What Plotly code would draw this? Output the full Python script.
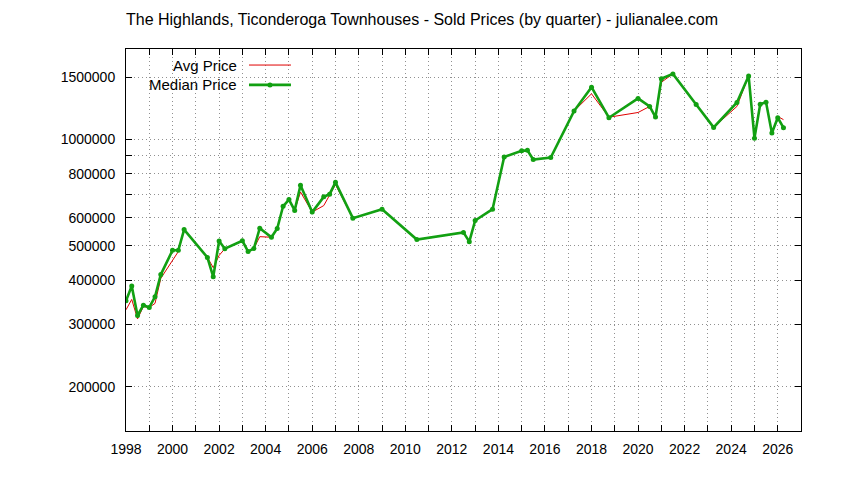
import numpy as np
import plotly.graph_objects as go

# 四半期ごとのデータ (quarter start)
quarters = [
    '1998-01-01', '1998-04-01', '1998-07-01', '1998-10-01', '1999-01-01', '1999-04-01',
    '1999-07-01', '2000-01-01', '2000-04-01', '2000-07-01', '2001-07-01', '2001-10-01',
    '2002-01-01', '2002-04-01', '2003-01-01', '2003-04-01', '2003-07-01', '2003-10-01',
    '2004-04-01', '2004-07-01', '2004-10-01', '2005-01-01', '2005-04-01', '2005-07-01',
    '2006-01-01', '2006-07-01', '2006-10-01', '2007-01-01', '2007-10-01', '2009-01-01',
    '2010-07-01', '2012-07-01', '2012-10-01', '2013-01-01', '2013-10-01', '2014-04-01',
    '2015-01-01', '2015-04-01', '2015-07-01', '2016-04-01', '2017-04-01', '2018-01-01',
    '2018-10-01', '2020-01-01', '2020-07-01', '2020-10-01', '2021-01-01', '2021-07-01',
    '2022-07-01', '2023-04-01', '2024-04-01', '2024-10-01', '2025-01-01', '2025-04-01',
    '2025-07-01', '2025-10-01', '2026-01-01', '2026-04-01',
]
avg_price = [
    330000, 353000, 311000, 337000, 335000, 344000,
    405000, 456000, 482000, 556000, 464000, 434000,
    470000, 491000, 517000, 482000, 492000, 531000,
    529000, 560000, 647000, 676000, 630000, 710000,
    623000, 650000, 695000, 745000, 599000, 635000,
    521000, 546000, 514000, 590000, 635000, 892000,
    929000, 931000, 877000, 888000, 1202000, 1345000,
    1155000, 1191000, 1239000, 1156000, 1450000, 1531000,
    1255000, 1081000, 1239000, 1511000, 1008000, 1257000,
    1274000, 1042000, 1160000, 1137000,
]
median_price = [
    350000, 385000, 318000, 340000, 335000, 359000,
    415000, 486000, 486000, 556000, 464000, 409000,
    516000, 491000, 517000, 482000, 492000, 561000,
    529000, 560000, 647000, 676000, 630000, 742000,
    623000, 688000, 700000, 756000, 599000, 635000,
    521000, 546000, 514000, 590000, 635000, 892000,
    929000, 931000, 877000, 888000, 1202000, 1404000,
    1151000, 1305000, 1239000, 1156000, 1483000, 1531000,
    1255000, 1081000, 1271000, 1511000, 1008000, 1257000,
    1274000, 1042000, 1151000, 1079000,
]
y_tickvals = [200000, 300000, 400000, 500000, 600000, 700000, 800000, 900000, 1000000, 1500000]
y_ticktext = ['200000', '300000', '400000', '500000', '600000', '', '800000', '', '1000000', '1500000']

title_text = 'The Highlands, Ticonderoga Townhouses - Sold Prices (by quarter) - julianalee.com'

# 見た目
font_family = 'Liberation Sans'
text_color  = 'black'
grid_color  = '#909090'
grid_dash   = '1px,3px'
avg_color   = '#e00000'
med_color   = '#12a012'

# ページ(body)の余白 8px を差し引いたサイズ
fig_w, fig_h = 836, 472

fig = go.Figure()
fig.add_trace(go.Scatter(
    x          = quarters,
    y          = avg_price,
    name       = 'Avg Price',
    mode       = 'lines',
    line       = {'color': avg_color, 'width': 1},
    showlegend = False,
))
fig.add_trace(go.Scatter(
    x          = quarters,
    y          = median_price,
    name       = 'Median Price',
    mode       = 'lines+markers',
    line       = {'color': med_color, 'width': 2.6},
    marker     = {'color': med_color, 'size': 5},
    showlegend = False,
))

fig.update_layout(
    width         = fig_w,
    height        = fig_h,
    margin        = {'l': 118, 'r': 43, 't': 41, 'b': 49},
    font          = {'family': font_family, 'size': 14, 'color': text_color},
    plot_bgcolor  = 'white',
    paper_bgcolor = 'white',
    title         = {
        'text':    title_text,
        'font':    {'family': font_family, 'size': 16, 'color': text_color},
        'xref':    'container',
        'yref':    'container',
        'x':       (422 - 8) / fig_w,
        'y':       1 - 11 / fig_h,
        'xanchor': 'center',
        'yanchor': 'middle',
    },
)

# 軸
fig.update_xaxes(
    type              = 'date',
    range             = ['1998-01-01', '2027-01-01'],
    tick0             = '1998-01-01',
    dtick             = 'M24',
    tickformat        = '%Y',
    ticks             = 'inside',
    ticklen           = 6,
    tickcolor         = 'black',
    ticklabelstandoff = 5,
    showline          = True,
    linecolor         = 'black',
    linewidth         = 1,
    mirror            = 'allticks',
    showgrid          = True,
    gridcolor         = grid_color,
    griddash          = grid_dash,
    gridwidth         = 1,
    zeroline          = False,
    minor             = {
        'tick0':     '1998-01-01',
        'dtick':     'M12',
        'ticks':     'inside',
        'ticklen':   6,
        'tickcolor': 'black',
        'showgrid':  True,
        'gridcolor': grid_color,
        'griddash':  grid_dash,
        'gridwidth': 1,
    },
)
fig.update_yaxes(
    type              = 'log',
    range             = [np.log10(150000), np.log10(1800000)],
    tickmode          = 'array',
    tickvals          = y_tickvals,
    ticktext          = y_ticktext,
    ticks             = 'inside',
    ticklen           = 6,
    tickcolor         = 'black',
    ticklabelstandoff = 7,
    showline          = True,
    linecolor         = 'black',
    linewidth         = 1,
    mirror            = 'allticks',
    showgrid          = True,
    gridcolor         = grid_color,
    griddash          = grid_dash,
    gridwidth         = 1,
    zeroline          = False,
)

# 凡例 (gnuplot風: テキスト右寄せ + サンプル線)
legend_rows = [
    ('Avg Price',    avg_color, 1,   False, 0.958),
    ('Median Price', med_color, 2.6, True,  0.906),
]
for label, color, width, has_marker, yy in legend_rows:
    fig.add_annotation(
        text      = label,
        xref      = 'paper',
        yref      = 'paper',
        x         = 0.1674,
        y         = yy,
        xanchor   = 'right',
        yanchor   = 'middle',
        showarrow = False,
        font      = {'family': font_family, 'size': 15, 'color': text_color},
    )
    fig.add_shape(
        type = 'line',
        xref = 'paper',
        yref = 'paper',
        x0   = 0.1822,
        x1   = 0.2444,
        y0   = yy,
        y1   = yy,
        line = {'color': color, 'width': width},
    )
    if has_marker:
        fig.add_shape(
            type      = 'circle',
            xref      = 'paper',
            yref      = 'paper',
            xsizemode = 'pixel',
            ysizemode = 'pixel',
            xanchor   = 0.2133,
            yanchor   = yy,
            x0        = -2.5,
            x1        = 2.5,
            y0        = -2.5,
            y1        = 2.5,
            fillcolor = color,
            line      = {'color': color, 'width': 0},
        )

fig.write_html('out.html')
